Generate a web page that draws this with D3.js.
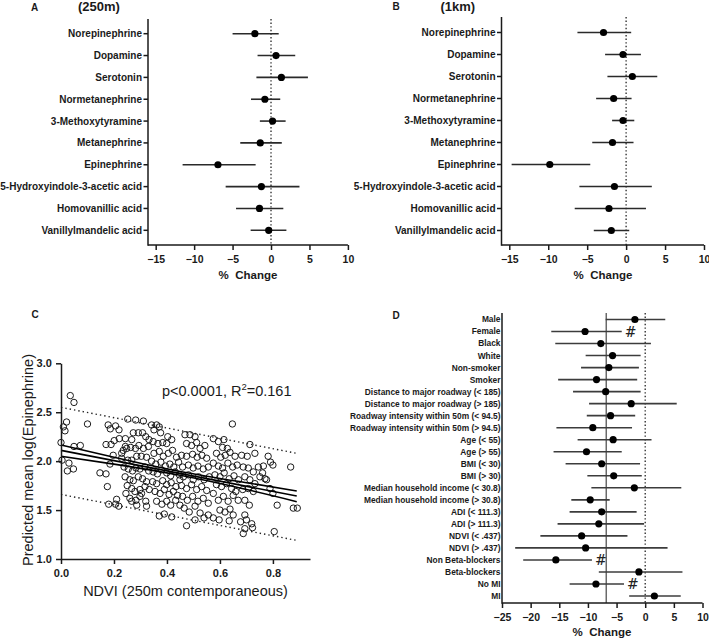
<!DOCTYPE html>
<html><head><meta charset="utf-8">
<script src="https://cdn.jsdelivr.net/npm/d3@7"></script>
<style>
body{margin:0;background:#fff}
svg{font-family:Arial,"Liberation Sans",Helvetica,sans-serif}
</style>
</head><body>
<svg id="chart" width="709" height="638"></svg>
<script>
// ---------- Panels A & B data ----------
const metabolites = ["Norepinephrine","Dopamine","Serotonin","Normetanephrine","3-Methoxytyramine",
  "Metanephrine","Epinephrine","5-Hydroxyindole-3-acetic acid","Homovanillic acid","Vanillylmandelic acid"];
const est250 = [-2.1, 0.65, 1.35, -0.8, 0.2, -1.4, -6.9, -1.25, -1.5, -0.3];
const lo250  = [-5.0, -1.75, -1.9, -2.6, -1.45, -4.0, -11.5, -5.9, -4.55, -2.65];
const hi250  = [1.0, 3.15, 4.8, 1.2, 1.9, 1.4, -2.0, 3.7, 1.6, 2.0];
const est1k = [-2.9, -0.4, 0.8, -1.6, -0.4, -1.75, -9.8, -1.5, -2.2, -1.9];
const lo1k  = [-6.25, -2.7, -2.4, -3.85, -1.8, -4.35, -14.7, -6.0, -6.6, -4.15];
const hi1k  = [0.65, 1.9, 4.0, 0.7, 1.05, 0.95, -4.6, 3.3, 2.55, 0.4];
const forestTicks = [-15, -10, -5, 0, 5, 10];

// ---------- Panel D data ----------
const subgroups = ["Male","Female","Black","White","Non-smoker","Smoker",
  "Distance to major roadway (< 185)","Distance to major roadway (> 185)",
  "Roadway intensity within 50m (< 94.5)","Roadway intensity within 50m (> 94.5)",
  "Age (< 55)","Age (> 55)","BMI (< 30)","BMI (> 30)",
  "Median household income (< 30.8)","Median household income (> 30.8)",
  "ADI (< 111.3)","ADI (> 111.3)","NDVI (< .437)","NDVI (> .437)",
  "Non Beta-blockers","Beta-blockers","No MI","MI"];
const subEst = [-1.8, -10.5, -7.75, -5.7, -6.35, -8.5, -6.9, -2.45, -6.05, -9.15, -5.6, -10.25,
  -7.6, -5.5, -1.9, -9.6, -7.6, -8.1, -11.1, -10.4, -15.6, -1.1, -8.6, 1.6];
const subLo = [-6.9, -16.4, -15.7, -10.4, -11.2, -15.2, -12.6, -9.8, -10.2, -15.5, -11.8, -16.0,
  -13.9, -10.1, -9.4, -12.9, -13.2, -15.3, -18.3, -22.7, -21.3, -8.1, -13.2, -2.8];
const subHi = [3.5, -4.1, 1.0, -0.8, -1.1, -1.4, -0.8, 5.5, -1.75, -2.3, 1.1, -4.1,
  -0.9, -0.6, 6.3, -6.2, -1.5, -0.2, -3.1, 3.9, -9.3, 6.5, -3.7, 6.2];
const subMark = ["", "#", "", "", "", "", "", "", "", "", "", "", "", "", "", "", "", "", "", "", "#", "", "#", ""];
const subTicks = [-25, -20, -15, -10, -5, 0, 5, 10];
const overallEffect = -6.8;

// ---------- Panel C data ----------
const cTicksX = [0.0, 0.2, 0.4, 0.6, 0.8];
const cTicksY = [1.0, 1.5, 2.0, 2.5, 3.0];
const scatter = [
 [0.035,2.67],[0.049,2.60],[0.021,2.40],[0.009,2.35],[0.015,2.31],[0.0,2.19],[0.049,2.15],[0.073,2.16],
 [0.004,2.01],[0.030,1.98],[0.047,1.92],[0.024,1.90],[0.10,2.38],
 [0.147,1.88],[0.17,1.87],[0.185,1.97],[0.175,1.74],[0.178,2.37],[0.186,2.33],[0.206,2.36],[0.219,2.32],
 [0.17,2.17],[0.189,2.17],[0.201,2.21],[0.22,2.23],[0.197,2.06],[0.229,2.08],[0.235,2.11],[0.243,2.15],
 [0.21,1.61],[0.206,1.56],[0.218,1.54],[0.18,1.56],
 [0.252,2.43],[0.282,2.42],[0.311,2.41],[0.243,2.23],[0.267,2.22],[0.273,2.29],[0.292,2.29],[0.308,2.29],
 [0.32,2.25],[0.332,2.22],[0.248,2.13],[0.263,2.14],[0.281,2.13],[0.294,2.16],[0.311,2.13],[0.33,2.15],
 [0.229,2.03],[0.252,2.01],[0.267,2.01],[0.286,2.05],[0.303,2.05],[0.323,2.04],[0.238,1.94],[0.254,1.92],
 [0.27,1.90],[0.283,1.93],[0.298,1.92],[0.317,1.94],[0.331,1.90],[0.242,1.84],[0.26,1.81],[0.273,1.80],
 [0.292,1.84],[0.308,1.82],[0.323,1.79],[0.25,1.75],[0.267,1.72],[0.279,1.69],[0.298,1.71],[0.317,1.74],
 [0.333,1.71],[0.245,1.67],[0.26,1.62],[0.283,1.60],[0.286,1.55],[0.267,1.59],[0.298,1.64],[0.32,1.59],
 [0.323,1.54],[0.304,1.67],
 [0.342,2.37],[0.361,2.37],[0.371,2.35],[0.376,2.29],[0.351,2.32],[0.403,2.25],[0.348,2.20],[0.366,2.18],
 [0.384,2.19],[0.399,2.18],[0.418,2.22],[0.351,2.08],[0.371,2.10],[0.386,2.05],[0.405,2.08],[0.421,2.11],
 [0.436,2.04],[0.342,2.0],[0.358,1.97],[0.377,1.99],[0.394,1.95],[0.411,1.97],[0.426,1.94],[0.444,1.99],
 [0.348,1.89],[0.364,1.87],[0.38,1.91],[0.399,1.88],[0.414,1.85],[0.431,1.89],[0.447,1.86],[0.346,1.79],
 [0.361,1.77],[0.384,1.80],[0.399,1.76],[0.416,1.78],[0.434,1.74],[0.449,1.81],[0.355,1.69],[0.374,1.67],
 [0.39,1.71],[0.408,1.66],[0.424,1.69],[0.44,1.65],[0.361,1.59],[0.381,1.56],[0.399,1.59],[0.414,1.55],
 [0.433,1.60],[0.449,1.55],[0.371,1.44],[0.39,1.46],[0.418,1.43],[0.474,1.34],
 [0.468,2.27],[0.487,2.27],[0.506,2.25],[0.474,2.18],[0.493,2.16],[0.512,2.19],[0.525,2.13],[0.543,2.16],
 [0.455,2.06],[0.474,2.05],[0.497,2.07],[0.514,2.04],[0.532,2.06],[0.55,2.03],[0.459,1.94],[0.481,1.96],
 [0.499,1.93],[0.517,1.95],[0.537,1.92],[0.556,1.94],[0.462,1.84],[0.481,1.86],[0.499,1.81],[0.519,1.84],
 [0.54,1.81],[0.56,1.84],[0.455,1.75],[0.474,1.72],[0.493,1.76],[0.512,1.71],[0.531,1.74],[0.55,1.70],
 [0.459,1.64],[0.477,1.60],[0.497,1.64],[0.517,1.59],[0.537,1.62],[0.556,1.57],[0.465,1.52],[0.484,1.48],
 [0.506,1.54],[0.525,1.47],[0.54,1.42],[0.506,1.40],[0.556,1.45],
 [0.575,2.23],[0.594,2.20],[0.61,2.14],[0.628,2.13],[0.647,2.38],[0.615,2.22],[0.587,2.08],[0.603,2.04],
 [0.62,2.06],[0.638,2.09],[0.657,2.05],[0.575,1.98],[0.594,1.95],[0.61,1.93],[0.63,1.98],[0.648,1.94],
 [0.665,1.96],[0.581,1.86],[0.60,1.84],[0.616,1.88],[0.635,1.82],[0.653,1.85],[0.67,1.81],[0.587,1.76],
 [0.606,1.74],[0.625,1.77],[0.644,1.72],[0.66,1.69],[0.575,1.67],[0.594,1.60],[0.613,1.64],[0.631,1.59],
 [0.65,1.65],[0.669,1.60],[0.60,1.50],[0.619,1.48],[0.638,1.51],[0.575,1.42],[0.597,1.40],[0.635,1.39],
 [0.65,1.45],[0.678,1.38],
 [0.682,2.06],[0.703,2.05],[0.713,2.17],[0.732,2.08],[0.688,1.94],[0.707,1.93],[0.726,1.89],[0.745,1.94],
 [0.764,1.95],[0.694,1.84],[0.713,1.81],[0.732,1.77],[0.751,1.84],[0.77,1.82],[0.686,1.71],[0.707,1.72],
 [0.726,1.69],[0.694,1.60],[0.711,1.55],[0.694,1.45],[0.70,1.40],[0.72,1.36],[0.694,1.31],[0.688,1.26],
 [0.723,1.32],
 [0.782,2.05],[0.791,1.99],[0.80,1.96],[0.776,1.81],[0.789,1.72],[0.80,1.67],[0.816,1.55],[0.805,1.28],
 [0.867,1.94],[0.877,1.52],[0.892,1.52],[0.761,1.88]
];
const ciX     = [0, 0.2, 0.45, 0.7, 0.89];
const ciUpper = [2.165, 2.04, 1.895, 1.78, 1.695];
const ciLower = [2.05, 1.97, 1.855, 1.71, 1.586];
const fitX    = [0, 0.89];
const fitY    = [2.11, 1.644];
const predUpper = [2.55, 2.08];
const predLower = [1.66, 1.19];

// ---------- drawing ----------
const svg = d3.select("#chart");
const INK = "#1a1a1a";

function styleAxis(g) {
  g.selectAll(".domain").attr("stroke", INK).attr("stroke-width", 1.5);
  g.selectAll(".tick line").attr("stroke", INK).attr("stroke-width", 1.5);
  g.selectAll(".tick text").attr("fill", INK).attr("font-weight", "bold")
    .attr("font-family", "Arial, 'Liberation Sans', sans-serif");
}

function forest(cfg) {
  const x = d3.scaleLinear().domain(cfg.xDomain).range(cfg.xRange);
  const y = d3.scalePoint().domain(cfg.labels).range(cfg.yRows);
  const g = svg.append("g");
  g.append("line").attr("x1", x(0)).attr("x2", x(0)).attr("y1", cfg.yTop).attr("y2", cfg.yBottom)
    .attr("stroke", "#333").attr("stroke-width", 1.4).attr("stroke-dasharray", "1.4,2.2");
  if (cfg.refLine !== undefined) {
    g.append("line").attr("x1", x(cfg.refLine)).attr("x2", x(cfg.refLine))
      .attr("y1", cfg.refTop).attr("y2", cfg.yBottom)
      .attr("stroke", "#6a6a6a").attr("stroke-width", 1.5);
  }
  g.selectAll(".ci").data(cfg.labels).join("line")
    .attr("x1", (d, i) => x(cfg.lo[i])).attr("x2", (d, i) => x(cfg.hi[i]))
    .attr("y1", d => y(d)).attr("y2", d => y(d))
    .attr("stroke", cfg.barColor).attr("stroke-width", 1.6);
  g.selectAll(".pt").data(cfg.labels).join("circle")
    .attr("cx", (d, i) => x(cfg.est[i])).attr("cy", d => y(d)).attr("r", cfg.r)
    .attr("fill", "#000");
  if (cfg.marks) {
    g.selectAll(".mk").data(cfg.labels).join("text")
      .text((d, i) => cfg.marks[i])
      .attr("x", (d, i) => x(cfg.hi[i]) + 3).attr("y", d => y(d) + 5)
      .attr("font-size", 14).attr("font-family", "'DejaVu Serif', 'Liberation Serif', serif").attr("fill", "#222");
  }
  const xa = g.append("g").attr("transform", `translate(0,${cfg.yBottom})`)
    .call(d3.axisBottom(x).tickValues(cfg.ticks).tickSize(5).tickSizeOuter(0).tickFormat(d3.format("d")));
  xa.select(".domain").attr("d", `M${cfg.xRange[0]},0H${x(cfg.xDomain[1])}`);
  styleAxis(xa);
  xa.selectAll(".tick text").attr("font-size", cfg.tickFont).attr("dy", "0.95em");
  g.append("line").attr("x1", cfg.xRange[0]).attr("x2", cfg.xRange[0])
    .attr("y1", cfg.yTop).attr("y2", cfg.yBottom + 0.75).attr("stroke", INK).attr("stroke-width", 1.5);
  g.selectAll(".yt").data(cfg.labels).join("line")
    .attr("x1", cfg.xRange[0] - cfg.yTick).attr("x2", cfg.xRange[0])
    .attr("y1", d => y(d)).attr("y2", d => y(d)).attr("stroke", INK).attr("stroke-width", 1.5);
  g.selectAll(".yl").data(cfg.labels).join("text")
    .text(d => d).attr("x", cfg.xRange[0] - cfg.yTick - 1.5).attr("y", d => y(d)).attr("dy", "0.35em")
    .attr("text-anchor", "end").attr("font-weight", "bold").attr("font-size", cfg.labelFont).attr("fill", INK);
  g.append("text").text("%  Change").attr("xml:space", "preserve").style("white-space", "pre")
    .attr("x", cfg.titleX).attr("y", cfg.titleY)
    .attr("text-anchor", "middle").attr("font-weight", "bold").attr("font-size", 11.5).attr("fill", INK);
  return g;
}

forest({labels: metabolites, est: est250, lo: lo250, hi: hi250,
  xDomain: [-16, 10], xRange: [148, 347.9], yRows: [33.7, 230.3], yTop: 19, yBottom: 245,
  ticks: forestTicks, r: 3.6, barColor: "#2a2a2a", yTick: 4.5, labelFont: 10, tickFont: 10.5,
  titleX: 248, titleY: 279});
forest({labels: metabolites, est: est1k, lo: lo1k, hi: hi1k,
  xDomain: [-16, 10], xRange: [501.5, 704], yRows: [32.5, 230.5], yTop: 17, yBottom: 245,
  ticks: forestTicks, r: 3.6, barColor: "#2a2a2a", yTick: 4.5, labelFont: 10, tickFont: 10.5,
  titleX: 603, titleY: 279});
forest({labels: subgroups, est: subEst, lo: subLo, hi: subHi, marks: subMark,
  xDomain: [-25, 10], xRange: [502, 702.5], yRows: [319.5, 596], yTop: 313, yBottom: 603,
  refLine: overallEffect, refTop: 313,
  ticks: subTicks, r: 3.6, barColor: "#3c3c3c", yTick: 0, labelFont: 8.4, tickFont: 10.5,
  titleX: 602, titleY: 636});

const titles = [["A", 31, 10.7, 10], ["B", 392.5, 10, 10], ["C", 31.5, 318, 10], ["D", 392.5, 319, 10]];
svg.selectAll(".ptitle").data(titles).join("text").text(d => d[0])
  .attr("x", d => d[1]).attr("y", d => d[2]).attr("font-size", d => d[3])
  .attr("font-weight", "bold").attr("fill", INK);
svg.append("text").text("(250m)").attr("x", 78).attr("y", 11).attr("font-size", 13)
  .attr("font-weight", "bold").attr("fill", INK);
svg.append("text").text("(1km)").attr("x", 440.5).attr("y", 11).attr("font-size", 13)
  .attr("font-weight", "bold").attr("fill", INK);

// ---------- Panel C ----------
const cx = d3.scaleLinear().domain([0, 0.94]).range([61, 310]);
const cy = d3.scaleLinear().domain([1, 3]).range([559, 363.3]);
const gc = svg.append("g");
gc.selectAll("circle").data(scatter).join("circle")
  .attr("cx", d => cx(d[0])).attr("cy", d => cy(d[1])).attr("r", 3.2)
  .attr("fill", "none").attr("stroke", "#111").attr("stroke-width", 0.95);
const lineGen = d3.line().x(d => cx(d[0])).y(d => cy(d[1]));
const curveGen = d3.line().x(d => cx(d[0])).y(d => cy(d[1])).curve(d3.curveNatural);
gc.append("path").attr("d", lineGen(fitX.map((v, i) => [v, fitY[i]])))
  .attr("fill", "none").attr("stroke", "#000").attr("stroke-width", 1.6);
[ciUpper, ciLower].forEach(arr => {
  gc.append("path").attr("d", curveGen(ciX.map((v, i) => [v, arr[i]])))
    .attr("fill", "none").attr("stroke", "#000").attr("stroke-width", 1.6);
});
[predUpper, predLower].forEach(arr => {
  gc.append("path").attr("d", lineGen(fitX.map((v, i) => [v, arr[i]])))
    .attr("fill", "none").attr("stroke", "#222").attr("stroke-width", 1.4).attr("stroke-dasharray", "1.4,3");
});
const cxa = gc.append("g").attr("transform", "translate(0,559)")
  .call(d3.axisBottom(cx).tickValues(cTicksX).tickSize(5).tickSizeOuter(0).tickFormat(d3.format(".1f")));
styleAxis(cxa);
cxa.selectAll(".tick text").attr("font-size", 11).attr("dy", "0.95em");
const cya = gc.append("g").attr("transform", "translate(61,0)")
  .call(d3.axisLeft(cy).tickValues(cTicksY).tickSize(5).tickSizeOuter(0).tickFormat(d3.format(".1f")));
styleAxis(cya);
cya.selectAll(".tick text").attr("font-size", 11).attr("dx", "-0.1em");
const ann = gc.append("text").attr("x", 162).attr("y", 395.5).attr("font-size", 14.5).attr("fill", INK);
ann.append("tspan").text("p<0.0001, R");
ann.append("tspan").text("2").attr("font-size", 9.5).attr("dy", -6);
ann.append("tspan").text("=0.161").attr("dy", 6);
gc.append("text").text("NDVI (250m contemporaneous)").attr("x", 185.5).attr("y", 595.5)
  .attr("text-anchor", "middle").attr("font-size", 14.5).attr("fill", INK);
gc.append("text").text("Predicted mean log(Epinephrine)")
  .attr("transform", "translate(32.5,460) rotate(-90)")
  .attr("text-anchor", "middle").attr("font-size", 14.5).attr("fill", INK);
</script>
</body></html>
